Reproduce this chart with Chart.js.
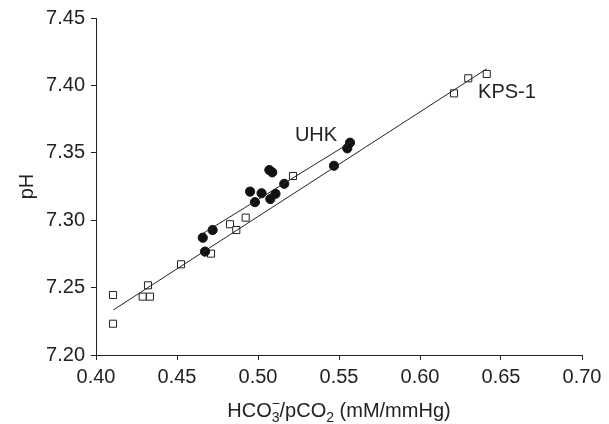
<!DOCTYPE html>
<html>
<head>
<meta charset="utf-8">
<script src="https://cdn.jsdelivr.net/npm/chart.js@4/dist/chart.umd.min.js"></script>
<style>
  html, body { margin: 0; padding: 0; background: #fff; }
  #wrap { width: 609px; height: 424px; position: relative; }
</style>
</head>
<body>
<div id="wrap"><canvas id="chart"></canvas></div>
<script>
// KPS-1 (open squares)
const kpsX = [0.4105, 0.4105, 0.4288, 0.4333, 0.4321, 0.4525, 0.4710, 0.4827, 0.4866, 0.4924, 0.5216, 0.6210, 0.6298, 0.6412];
const kpsY = [7.2445, 7.2232, 7.2433, 7.2433, 7.2517, 7.2673, 7.2752, 7.2970, 7.2927, 7.3019, 7.3328, 7.3941, 7.4053, 7.4085];
// UHK (filled circles)
const uhkX = [0.4659, 0.4673, 0.4720, 0.4951, 0.4981, 0.5022, 0.5070, 0.5088, 0.5076, 0.5108, 0.5162, 0.5469, 0.5551, 0.5568];
const uhkY = [7.2870, 7.2767, 7.2927, 7.3212, 7.3134, 7.3200, 7.3372, 7.3355, 7.3157, 7.3196, 7.3270, 7.3404, 7.3533, 7.3575];
// regression line end points
const kpsFitX = [0.4107, 0.6412];
const kpsFitY = [7.2334, 7.4123];
const uhkFitX = [0.4660, 0.5578];
const uhkFitY = [7.2901, 7.3582];
// text labels placed in data units
const labelNames = ['UHK', 'KPS-1'];
const labelX = [0.5358, 0.6537];
const labelY = [7.3632, 7.3944];

const FONT = '"Liberation Sans", Arial, Helvetica, sans-serif';

function pts(xs, ys) {
    return xs.map((x, i) => ({ x: x, y: ys[i] }));
}

const textPlugin = {
    id: 'texts',
    afterDraw(chart) {
        const ctx = chart.ctx;
        const xs = chart.scales.x, ys = chart.scales.y;
        ctx.save();
        ctx.fillStyle = '#222';
        ctx.font = '20px ' + FONT;
        ctx.textAlign = 'center';
        ctx.textBaseline = 'middle';
        labelNames.forEach((t, i) => {
            ctx.fillText(t, xs.getPixelForValue(labelX[i]), ys.getPixelForValue(labelY[i]));
        });

        // x axis title with stacked sub/superscript
        const big = '20px ' + FONT, small = '14px ' + FONT;
        ctx.textAlign = 'left';
        ctx.textBaseline = 'alphabetic';
        const parts = [
            { t: 'HCO', f: big, dy: 0 },
            { t: '\u2212', f: small, dy: -9, stack: true },
            { t: '3', f: small, dy: 5 },
            { t: '/pCO', f: big, dy: 0 },
            { t: '2', f: small, dy: 5 },
            { t: ' (mM/mmHg)', f: big, dy: 0 }
        ];
        let total = 0;
        parts.forEach(p => {
            ctx.font = p.f;
            p.w = p.stack ? 0 : ctx.measureText(p.t).width;
            total += p.w;
        });
        let x = (chart.chartArea.left + chart.chartArea.right) / 2 - total / 2;
        const base = 417;
        parts.forEach(p => {
            ctx.font = p.f;
            ctx.fillText(p.t, x, base + p.dy);
            x += p.w;
        });
        ctx.restore();
    }
};

new Chart(document.getElementById('chart'), {
    type: 'scatter',
    data: {
        datasets: [
            {
                type: 'line', data: pts(kpsFitX, kpsFitY), borderColor: '#222', borderWidth: 1,
                pointRadius: 0, fill: false
            },
            {
                type: 'line', data: pts(uhkFitX, uhkFitY), borderColor: '#222', borderWidth: 1,
                pointRadius: 0, fill: false
            },
            {
                data: pts(uhkX, uhkY), pointStyle: 'circle', pointRadius: 4.6,
                backgroundColor: '#111', borderColor: '#111', borderWidth: 1
            },
            {
                data: pts(kpsX, kpsY), pointStyle: 'rect', pointRadius: 5,
                backgroundColor: '#fff', borderColor: '#222', borderWidth: 1
            }
        ]
    },
    options: {
        responsive: true,
        maintainAspectRatio: false,
        animation: false,
        layout: { padding: { top: 18, right: 27, left: 0, bottom: 0 } },
        plugins: { legend: { display: false }, tooltip: { enabled: false } },
        scales: {
            x: {
                type: 'linear', min: 0.40, max: 0.70,
                afterFit: s => { s.height = 69; },
                ticks: {
                    stepSize: 0.05, autoSkip: false, maxRotation: 0, padding: 5,
                    color: '#222', font: { size: 20, family: FONT },
                    callback: v => v.toFixed(2)
                },
                grid: { drawOnChartArea: false, drawTicks: true, tickLength: 5, color: '#222' },
                border: { display: true, color: '#222', width: 1 }
            },
            y: {
                type: 'linear', min: 7.20, max: 7.45,
                afterFit: s => { s.width = 96; },
                ticks: {
                    stepSize: 0.05, padding: 6,
                    color: '#222', font: { size: 20, family: FONT },
                    callback: v => v.toFixed(2)
                },
                grid: { drawOnChartArea: false, drawTicks: true, tickLength: 5, color: '#222' },
                border: { display: true, color: '#222', width: 1 },
                title: {
                    display: true, text: 'pH', color: '#222',
                    font: { size: 20, family: FONT }, padding: { top: 15, bottom: 0 }
                }
            }
        }
    },
    plugins: [textPlugin]
});
</script>
</body>
</html>
